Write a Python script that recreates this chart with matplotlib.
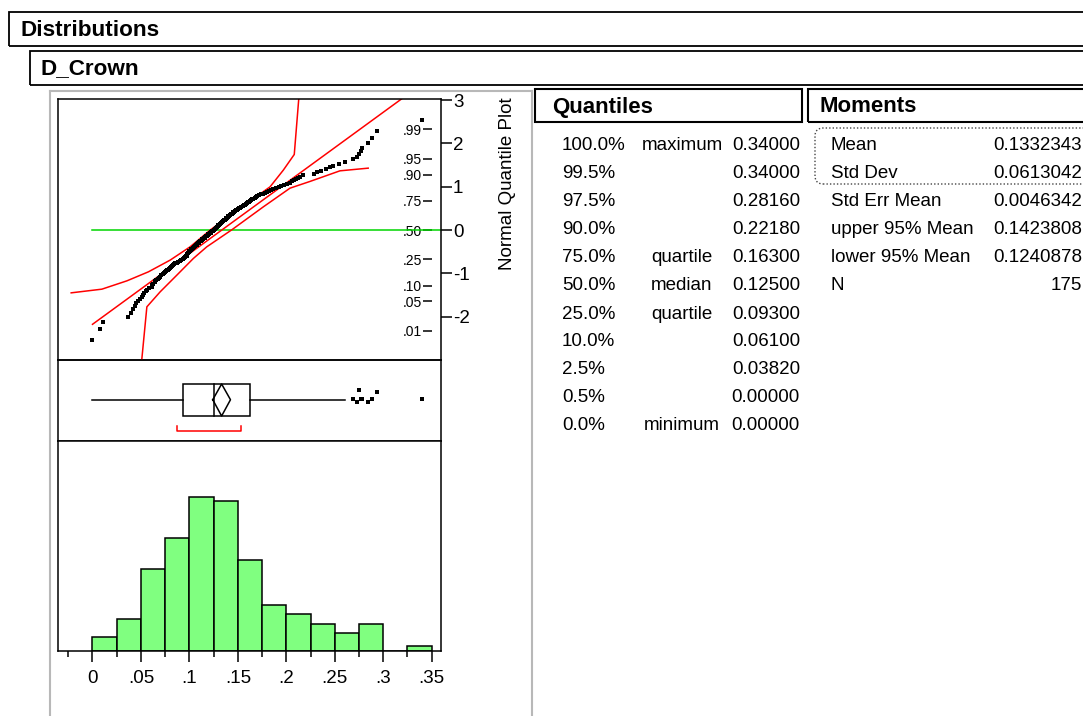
import matplotlib.pyplot as plt
import numpy as np
from matplotlib.patches import Rectangle, FancyBboxPatch
from matplotlib.lines import Line2D
from statistics import NormalDist

#####################################################################
# Data: D_Crown, sorted (n = 175)

d_crown = [
    0.000, 0.008, 0.011,
    0.037, 0.040, 0.042, 0.044, 0.045, 0.047, 0.049,
    0.051, 0.052, 0.053, 0.055, 0.056, 0.058, 0.061, 0.061, 0.062,
    0.064, 0.065, 0.066, 0.068, 0.069, 0.070, 0.071, 0.073, 0.074,
    0.075, 0.076, 0.077, 0.078, 0.079, 0.080, 0.081, 0.082, 0.083,
    0.084, 0.085, 0.087, 0.088, 0.090, 0.091, 0.093, 0.093, 0.094,
    0.095, 0.096, 0.097, 0.097, 0.098, 0.099, 0.099,
    0.100, 0.100, 0.101, 0.102, 0.102, 0.103, 0.104, 0.105, 0.105,
    0.106, 0.107, 0.108, 0.108, 0.109, 0.110, 0.110, 0.111, 0.112,
    0.113, 0.113, 0.114, 0.115, 0.116, 0.116, 0.117, 0.118, 0.119,
    0.119, 0.120, 0.121, 0.122, 0.122, 0.123, 0.124,
    0.125, 0.125, 0.126, 0.127, 0.127, 0.128, 0.129, 0.130, 0.130,
    0.131, 0.132, 0.133, 0.133, 0.134, 0.135, 0.135, 0.136, 0.137,
    0.138, 0.138, 0.139, 0.140, 0.140, 0.141, 0.142, 0.143, 0.144,
    0.145, 0.145, 0.146, 0.147, 0.148, 0.149,
    0.150, 0.151, 0.152, 0.153, 0.155, 0.156, 0.157, 0.158, 0.159,
    0.160, 0.162, 0.163, 0.164, 0.165, 0.166, 0.168, 0.169, 0.170,
    0.172, 0.174,
    0.176, 0.178, 0.180, 0.182, 0.184, 0.186, 0.189, 0.192, 0.195, 0.198,
    0.201, 0.204, 0.206, 0.208, 0.210, 0.212, 0.214, 0.217,
    0.229, 0.232, 0.236, 0.241, 0.245, 0.248,
    0.254, 0.261, 0.269, 0.273,
    0.275, 0.277, 0.278, 0.284, 0.288, 0.294,
    0.340,
]

q_pct = ['100.0%', '99.5%', '97.5%', '90.0%', '75.0%', '50.0%',
         '25.0%', '10.0%', '2.5%', '0.5%', '0.0%']
q_name = ['maximum', '', '', '', 'quartile', 'median',
          'quartile', '', '', '', 'minimum']
q_value = [0.34, 0.34, 0.2816, 0.2218, 0.163, 0.125,
           0.093, 0.061, 0.0382, 0.0, 0.0]

m_name = ['Mean', 'Std Dev', 'Std Err Mean', 'upper 95% Mean',
          'lower 95% Mean', 'N']
m_value = [0.1332343, 0.0613042, 0.0046342, 0.1423808, 0.1240878, 175]

# shortest half bracket
shorth = [0.087, 0.153]

# Lilliefors bands (value, normal quantile)
band_left_x = [-0.022, 0.0097, 0.0355, 0.0577, 0.0801, 0.1007, 0.1213,
               0.1420, 0.1832, 0.1969, 0.2082, 0.2128]
band_left_z = [-1.447, -1.362, -1.170, -0.962, -0.692, -0.385, 0.0,
               0.346, 0.999, 1.385, 1.747, 3.02]
band_right_x = [0.0508, 0.0561, 0.0698, 0.0870, 0.1041, 0.1179, 0.1440,
                0.1763, 0.2038, 0.2244, 0.2553, 0.2845]
band_right_z = [-3.0, -1.770, -1.424, -1.039, -0.653, -0.385, 0.012,
                0.538, 0.969, 1.124, 1.369, 1.431]

prob_ticks = [0.01, 0.05, 0.10, 0.25, 0.50, 0.75, 0.90, 0.95, 0.99]
prob_labels = ['.01', '.05', '.10', '.25', '.50', '.75', '.90', '.95', '.99']
x_ticks = [0, 0.05, 0.1, 0.15, 0.2, 0.25, 0.3, 0.35]
x_labels = ['0', '.05', '.1', '.15', '.2', '.25', '.3', '.35']

# vertical jitter of the outlier dots
outlier_jitter = [0.012, -0.032, 0.12, 0.012, 0.012, -0.032, 0.012, 0.10, 0.012]

#####################################################################
# Figure setup

W, H = 1083, 716
plt.rcParams['font.family'] = ['Liberation Sans', 'DejaVu Sans']
fig = plt.figure(figsize=(W / 100, H / 100), dpi=100)
inch = fig.dpi_scale_trans


def rect(x0, y0, x1, y1):
    return [x0 / W, 1 - y1 / H, (x1 - x0) / W, (y1 - y0) / H]


def put(x, y, s, **kw):
    fig.text(x / 100, (H - y) / 100, s, transform=inch, **kw)


def box(x0, y0, x1, y1, **kw):
    fig.add_artist(Rectangle((x0 / 100, (H - y1) / 100), (x1 - x0) / 100,
                             (y1 - y0) / 100, transform=inch, fill=False, **kw))


def hline(x0, x1, y, **kw):
    fig.add_artist(Line2D([x0 / 100, x1 / 100], [(H - y) / 100] * 2,
                          transform=inch, **kw))


def vline(x, y0, y1, **kw):
    fig.add_artist(Line2D([x / 100] * 2, [(H - y0) / 100, (H - y1) / 100],
                          transform=inch, **kw))


lw = 1.1
xlim = (-0.0356, 0.3591)
data = np.array(d_crown)
n = len(data)
mean, sd = m_value[0], m_value[1]

#####################################################################
# Outline boxes

box(9, 12, 1100, 46, lw=1.3, ec='black')
put(20, 31, 'Distributions', fontsize=16.2, fontweight='bold', va='center')
box(30, 51, 1100, 85, lw=1.3, ec='black')
put(40, 69, 'D_Crown', fontsize=16.2, fontweight='bold', va='center')

vline(50, 91, 720, lw=1.5, color='#b8b8b8')
vline(532, 91, 720, lw=1.5, color='#b8b8b8')
hline(50, 532, 91, lw=1.5, color='#b8b8b8')

#####################################################################
# Normal quantile plot

ax_prob = fig.add_axes(rect(431.7, 99.3, 440.5, 359.7))
ax_qq = fig.add_axes(rect(58, 99.3, 440.5, 359.7))
ax_prob.set_zorder(1)
ax_qq.set_zorder(2)
ax_qq.patch.set_alpha(0)

nd = NormalDist()
z_pos = [nd.inv_cdf((i + 1) / (n + 1)) for i in range(n)]

ax_qq.plot([data.min(), 0.5], [0, 0], color='#00d400', lw=lw)
ax_qq.plot([data.min(), mean + 4 * sd], [(data.min() - mean) / sd, 4],
           color='red', lw=lw)
ax_qq.plot(band_left_x, band_left_z, color='red', lw=lw)
ax_qq.plot(band_right_x, band_right_z, color='red', lw=lw)
ax_qq.plot(data, z_pos, 's', color='black', ms=2.7, mew=0)

ax_qq.set_xlim(xlim)
ax_qq.set_ylim(-2.99, 3.02)
ax_qq.set_xticks([])
ax_qq.yaxis.tick_right()
ax_qq.set_yticks([-2, -1, 0, 1, 2, 3])
ax_qq.set_yticklabels(['-2', '-1', '0', '1', '2', '3'])
ax_qq.tick_params(axis='y', direction='out', length=7.7, width=lw,
                  labelsize=13.5, pad=1.2)
for s in ax_qq.spines.values():
    s.set_linewidth(lw)

ax_prob.set_ylim(-2.99, 3.02)
ax_prob.set_yticks([nd.inv_cdf(p) for p in prob_ticks])
ax_prob.set_yticklabels(prob_labels)
ax_prob.set_xticks([])
ax_prob.tick_params(axis='y', direction='out', length=6.3, width=lw,
                    labelsize=10, pad=0.8)
for s in ax_prob.spines.values():
    s.set_visible(False)
ax_prob.patch.set_alpha(0)

put(507, 184, 'Normal Quantile Plot', fontsize=13.5, rotation=90,
    ha='center', va='center')

#####################################################################
# Outlier box plot

ax_box = fig.add_axes(rect(58, 359.7, 440.5, 440.7))
q1, med, q3 = q_value[6], q_value[5], q_value[4]
fence = q3 + 1.5 * (q3 - q1)
whisk_hi = data[data <= fence].max()
whisk_lo = data[data >= q1 - 1.5 * (q3 - q1)].min()
outliers = data[data > fence]
ci_hi, ci_lo = m_value[3], m_value[4]
top, bot, mid = 0.70, 0.305, 0.506

ax_box.plot([whisk_lo, q1], [mid, mid], color='black', lw=lw)
ax_box.plot([q3, whisk_hi], [mid, mid], color='black', lw=lw)
ax_box.add_patch(Rectangle((q1, bot), q3 - q1, top - bot, fill=False,
                           ec='black', lw=lw))
ax_box.plot([med, med], [bot, top], color='black', lw=lw)
ax_box.plot([ci_lo, mean, ci_hi, mean, ci_lo], [mid, top, mid, bot, mid],
            color='black', lw=lw)
ax_box.plot([shorth[0], shorth[0], shorth[1], shorth[1]],
            [0.181, 0.12, 0.12, 0.181], color='red', lw=lw)
ax_box.plot(outliers, mid + np.array(outlier_jitter), 's', color='black',
            ms=2.7, mew=0)
ax_box.set_xlim(xlim)
ax_box.set_ylim(0, 1)
ax_box.set_xticks([])
ax_box.set_yticks([])
for s in ax_box.spines.values():
    s.set_linewidth(lw)

#####################################################################
# Histogram

ax_hist = fig.add_axes(rect(58, 440.7, 440.5, 650.7))
edges = np.round(np.arange(0, 0.3501, 0.025), 3)
ax_hist.hist(data, bins=edges, color='#80ff80', edgecolor='black', lw=lw)
ax_hist.set_xlim(xlim)
ax_hist.set_ylim(0, 46.4)
ax_hist.set_yticks([])
ax_hist.set_xticks(x_ticks)
ax_hist.set_xticklabels(x_labels)
ax_hist.set_xticks(np.round(np.arange(-0.025, 0.35, 0.05), 3), minor=True)
ax_hist.tick_params(axis='x', which='major', direction='out', length=8,
                    width=lw, labelsize=13.5, pad=6)
ax_hist.tick_params(axis='x', which='minor', direction='out', length=4.5,
                    width=lw)
for s in ax_hist.spines.values():
    s.set_linewidth(lw)

#####################################################################
# Quantiles table

box(535, 89, 802, 122, lw=1.5, ec='black')
put(552, 107, 'Quantiles', fontsize=16, fontweight='bold', va='center')
for k in range(len(q_pct)):
    y = 146 + 28 * k
    put(562, y, q_pct[k], fontsize=13.5, va='center')
    put(682, y, q_name[k], fontsize=13.5, va='center', ha='center')
    put(800, y, '%.5f' % q_value[k], fontsize=13.5, va='center', ha='right')

#####################################################################
# Moments table

box(808, 89, 1100, 122, lw=1.5, ec='black')
put(820, 107, 'Moments', fontsize=16, fontweight='bold', va='center')
fig.add_artist(FancyBboxPatch((815 / 100, (H - 184) / 100), 3.0, 0.56,
                              boxstyle='round,pad=0,rounding_size=0.08',
                              transform=inch, fill=False, ec='#444444',
                              lw=1.0, ls=(0, (1, 1.5))))
for k in range(len(m_name)):
    y = 146 + 28 * k
    v = m_value[k]
    txt = str(v) if isinstance(v, int) else '%.7f' % v
    put(831, y, m_name[k], fontsize=13.5, va='center')
    put(1082, y, txt, fontsize=13.5, va='center', ha='right')

plt.savefig('out.png', dpi=100)
